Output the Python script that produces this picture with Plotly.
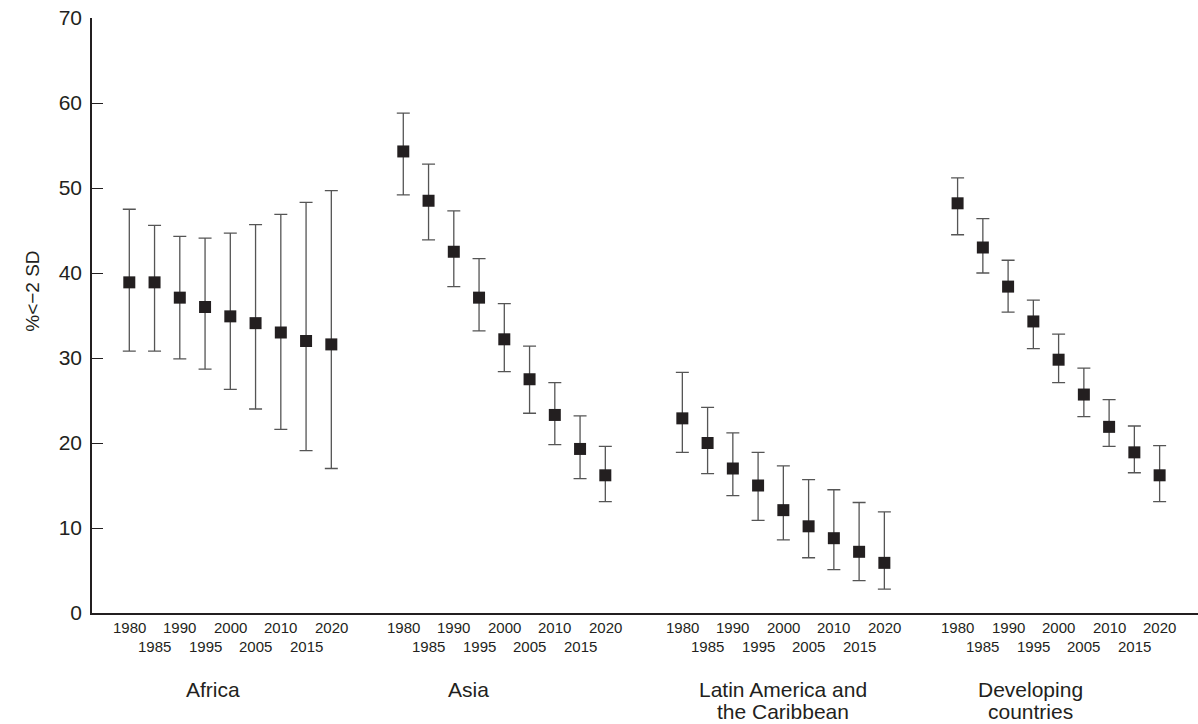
import plotly.graph_objects as go

years = [1980, 1985, 1990, 1995, 2000, 2005, 2010, 2015, 2020]
regions = ["Africa", "Asia", "Latin America and the Caribbean", "Developing countries"]
region_lines = [["Africa"], ["Asia"], ["Latin America and", "the Caribbean"], ["Developing", "countries"]]

africa = [38.9, 38.9, 37.1, 36.0, 34.9, 34.1, 33.0, 32.0, 31.6]
africa_hi = [47.5, 45.6, 44.3, 44.1, 44.7, 45.7, 46.9, 48.3, 49.7]
africa_lo = [30.8, 30.8, 29.9, 28.7, 26.3, 24.0, 21.6, 19.1, 17.0]

asia = [54.3, 48.5, 42.5, 37.1, 32.2, 27.5, 23.3, 19.3, 16.2]
asia_hi = [58.8, 52.8, 47.3, 41.7, 36.4, 31.4, 27.1, 23.2, 19.6]
asia_lo = [49.2, 43.9, 38.4, 33.2, 28.4, 23.5, 19.8, 15.8, 13.1]

lac = [22.9, 20.0, 17.0, 15.0, 12.1, 10.2, 8.8, 7.2, 5.9]
lac_hi = [28.3, 24.2, 21.2, 18.9, 17.3, 15.7, 14.5, 13.0, 11.9]
lac_lo = [18.9, 16.4, 13.8, 10.9, 8.6, 6.5, 5.1, 3.8, 2.8]

dev = [48.2, 43.0, 38.4, 34.3, 29.8, 25.7, 21.9, 18.9, 16.2]
dev_hi = [51.2, 46.4, 41.5, 36.8, 32.8, 28.8, 25.1, 22.0, 19.7]
dev_lo = [44.5, 40.0, 35.4, 31.1, 27.1, 23.1, 19.6, 16.5, 13.1]

series = [(africa, africa_hi, africa_lo), (asia, asia_hi, asia_lo),
          (lac, lac_hi, lac_lo), (dev, dev_hi, dev_lo)]

# layout constants (positions of groups along the x axis)
group_offsets = [0, 10.85, 21.9, 32.8]
label_shift = [3.3, 2.6, 4.0, 2.9]

INK = "#231f20"
FONT = "Liberation Sans, Arial, Helvetica, sans-serif"

fig = go.Figure()
annotations = []
for g, (vals, hi, lo) in enumerate(series):
    xs = [group_offsets[g] + i for i in range(len(years))]
    fig.add_trace(go.Scatter(
        x=xs, y=vals, mode="markers", name=regions[g], showlegend=False,
        marker=dict(symbol="square", size=12, color=INK),
        error_y=dict(type="data", symmetric=False,
                     array=[h - v for h, v in zip(hi, vals)],
                     arrayminus=[v - l for v, l in zip(vals, lo)],
                     color="#555555", thickness=1.3, width=6.5),
    ))
    # staggered year labels under the axis
    for i, yr in enumerate(years):
        annotations.append(dict(
            x=xs[i], xref="x", y=-0.0247 if i % 2 == 0 else -0.0566, yref="paper",
            xanchor="center", yanchor="middle", text=str(yr), showarrow=False,
            font=dict(size=15, color=INK, family=FONT)))

for g, lines in enumerate(region_lines):
    for k, line in enumerate(lines):
        annotations.append(dict(
            x=group_offsets[g] + label_shift[g], xref="x",
            y=-0.129 - 0.037 * k, yref="paper", xanchor="center", yanchor="middle",
            text=line, showarrow=False, font=dict(size=21, color=INK, family=FONT)))

annotations.append(dict(
    x=-0.0533, xref="paper", y=0.54, yref="paper", text="%<−2 SD",
    xanchor="center", yanchor="middle",
    textangle=-90, showarrow=False, font=dict(size=19, color=INK, family=FONT)))

fig.update_layout(
    width=1198, height=724,
    margin=dict(l=92, r=0, t=18, b=111, autoexpand=False),
    paper_bgcolor="white", plot_bgcolor="white",
    font=dict(family=FONT, color=INK),
    annotations=annotations,
    hovermode=False,
    xaxis=dict(range=[-1.477, 42.32], showgrid=False, zeroline=False,
               showline=True, linecolor=INK, linewidth=1.5,
               showticklabels=False, ticks="", automargin=False),
    yaxis=dict(range=[0, 70], showgrid=False, zeroline=False,
               showline=True, linecolor=INK, linewidth=1.5, automargin=False,
               tickmode="array", tickvals=[0, 10, 20, 30, 40, 50, 60, 70],
               ticks="inside", ticklen=11, tickwidth=1.3, tickcolor=INK,
               ticklabelstandoff=4, ticklabeloverflow="allow",
               tickfont=dict(size=21, color=INK, family=FONT)),
)

# remove the page's default body margin so the figure fills the window exactly
fig.write_html("out.html", config={"displayModeBar": False},
               post_script="document.body.style.margin='0';document.body.style.overflow='hidden';")
